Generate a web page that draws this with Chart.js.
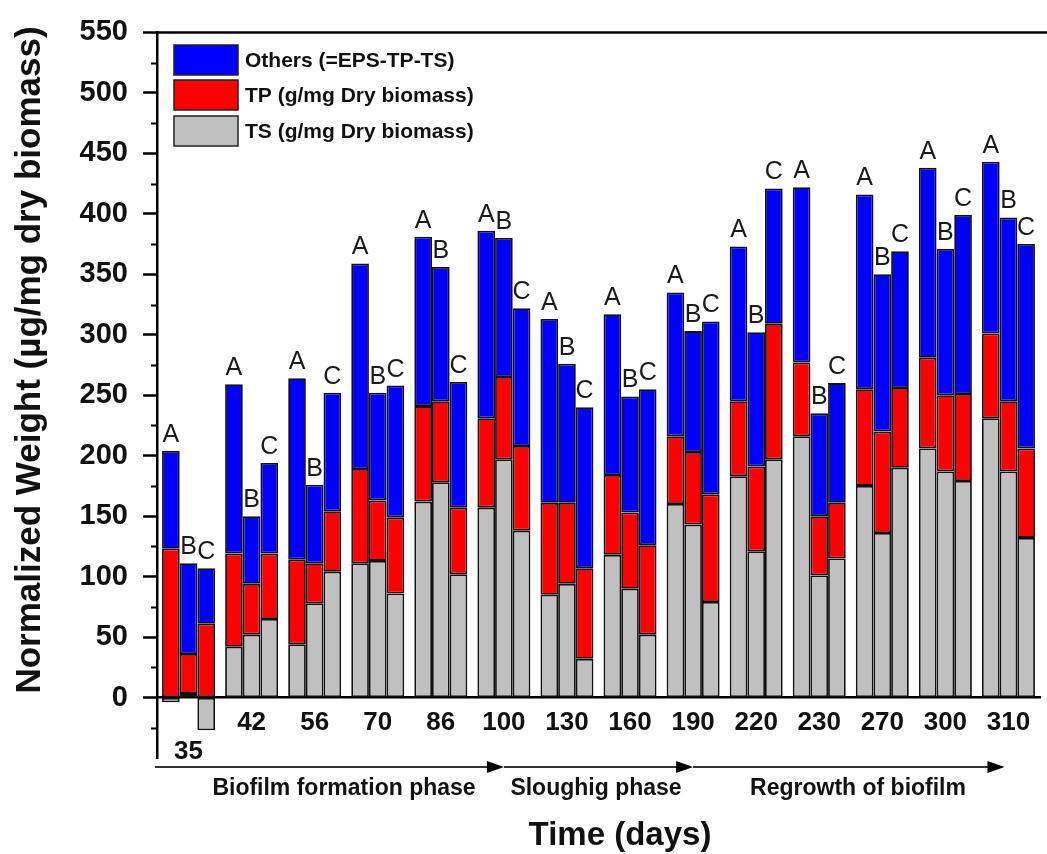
<!DOCTYPE html>
<html>
<head>
<meta charset="utf-8">
<script src="https://cdn.jsdelivr.net/npm/chart.js@4.4.0/dist/chart.umd.min.js"></script>
<style>
  body { margin: 0; background: #fff; }
  #wrap { width: 1047px; height: 854px; }
</style>
</head>
<body>
<div id="wrap"><canvas id="chart" width="1047" height="854"></canvas></div>
<script>
// sampling days and the three replicate bars (A, B, C) per day
const days = ['35', '42', '56', '70', '86', '100', '130', '160', '190', '220', '230', '270', '300', '310'];
const stacks = ['A', 'B', 'C'];

// TS = gray, TP = red, others = blue
const tsA = [-4, 42, 44, 111, 162, 157, 85, 118, 160, 183, 216, 175, 206, 231];
const tpA = [123, 77, 70, 78, 79, 74, 76, 66, 56, 62, 61, 80, 75, 70];
const otherA = [81, 140, 150, 170, 140, 155, 152, 133, 119, 128, 145, 161, 157, 142];

const tsB = [3, 52, 78, 113, 178, 197, 94, 90, 143, 121, 101, 136, 187, 187];
const tpB = [33, 42, 33, 50, 67, 68, 67, 63, 60, 70, 49, 84, 63, 58];
const otherB = [75, 56, 65, 89, 111, 115, 115, 96, 100, 111, 85, 130, 121, 152];

const tsC = [-27, 65, 104, 86, 102, 138, 32, 52, 79, 197, 115, 190, 179, 132];
const tpC = [61, 54, 50, 63, 55, 70, 75, 74, 89, 112, 46, 66, 72, 74];
const otherC = [46, 75, 98, 109, 104, 114, 133, 129, 143, 112, 99, 113, 148, 169];

const yTicks = [0, 50, 100, 150, 200, 250, 300, 350, 400, 450, 500, 550];
const seriesNames = ['Others (=EPS-TP-TS)', 'TP (g/mg Dry biomass)', 'TS (g/mg Dry biomass)'];
const phases = ['Biofilm formation phase', 'Sloughig phase', 'Regrowth of biofilm'];

const FONT = '"Liberation Sans", Arial, sans-serif';
const COLORS = { other: '#0000ff', tp: '#ff0000', ts: '#c0c0c0' };

const series = {
  A: [tsA, tpA, otherA],
  B: [tsB, tpB, otherB],
  C: [tsC, tpC, otherC]
};

function bar(data, part, stack) {
  return {
    label: part + ' ' + stack,
    part: part,
    data: data,
    stack: stack,
    backgroundColor: COLORS[part],
    borderColor: '#111',
    borderWidth: 1.8,
    borderSkipped: false,
    barPercentage: 1,
    categoryPercentage: 0.84
  };
}

const datasets = [];
stacks.forEach(s => {
  const [ts, tp, ot] = series[s];
  datasets.push(bar(ts, 'ts', s), bar(tp, 'tp', s), bar(ot, 'other', s));
});

// the first label sits one line lower, under the negative bar
const xLabels = days.map((d, i) => i === 0 ? ['', d] : d);

const decor = {
  id: 'decor',
  afterDatasetsDraw(chart) {
    const ctx = chart.ctx;
    ctx.save();
    ctx.font = '25px ' + FONT;
    ctx.fillStyle = '#1a1a1a';
    ctx.textAlign = 'center';
    ctx.textBaseline = 'alphabetic';
    chart.data.datasets.forEach((ds, i) => {
      if (ds.part !== 'other') return;
      chart.getDatasetMeta(i).data.forEach(el => {
        ctx.fillText(ds.stack, el.x, el.y - 9);
      });
    });
    ctx.restore();
  },
  afterDraw(chart) {
    const ctx = chart.ctx;
    const a = chart.chartArea;
    const x = chart.scales.x;
    const y = chart.scales.y;
    ctx.save();

    // top frame line
    ctx.strokeStyle = '#000';
    ctx.lineWidth = 2.5;
    ctx.beginPath();
    ctx.moveTo(a.left, a.top);
    ctx.lineTo(chart.width, a.top);
    ctx.stroke();

    // minor ticks
    ctx.lineWidth = 2;
    for (let v = -25; v < 550; v += 50) {
      const py = Math.round(y.getPixelForValue(v)) + 0.5;
      ctx.beginPath();
      ctx.moveTo(a.left - 6, py);
      ctx.lineTo(a.left, py);
      ctx.stroke();
    }

    // legend
    const legendColors = [COLORS.other, COLORS.tp, COLORS.ts];
    const boxTops = [45, 80, 116];
    ctx.font = 'bold 21px ' + FONT;
    ctx.textAlign = 'left';
    ctx.textBaseline = 'middle';
    seriesNames.forEach((name, i) => {
      ctx.fillStyle = legendColors[i];
      ctx.fillRect(174, boxTops[i], 64, 30);
      ctx.strokeStyle = '#222';
      ctx.lineWidth = 1.5;
      ctx.strokeRect(174, boxTops[i], 64, 30);
      ctx.fillStyle = '#111';
      ctx.fillText(name, 245, boxTops[i] + 16);
    });

    // phase arrows
    const ay = 767;
    const tips = [x.getPixelForValue(5), x.getPixelForValue(8), x.getPixelForValue(13) - 4];
    let start = a.left - 2;
    ctx.strokeStyle = '#333';
    ctx.fillStyle = '#000';
    ctx.lineWidth = 2;
    tips.forEach(tip => {
      ctx.beginPath();
      ctx.moveTo(start, ay);
      ctx.lineTo(tip - 10, ay);
      ctx.stroke();
      ctx.beginPath();
      ctx.moveTo(tip, ay);
      ctx.lineTo(tip - 17, ay - 6);
      ctx.lineTo(tip - 17, ay + 6);
      ctx.closePath();
      ctx.fill();
      start = tip;
    });

    ctx.font = 'bold 23px ' + FONT;
    ctx.textAlign = 'center';
    ctx.fillStyle = '#111';
    const phaseX = [344, 596, 858];
    phases.forEach((p, i) => ctx.fillText(p, phaseX[i], 789));

    // axis titles
    ctx.font = 'bold 33px ' + FONT;
    ctx.fillText('Time (days)', 620, 836);

    ctx.translate(30, 360);
    ctx.rotate(-Math.PI / 2);
    ctx.font = 'bold 35px ' + FONT;
    ctx.fillText('Normalized Weight (\u00b5g/mg dry biomass)', 0, 0);

    ctx.restore();
  }
};

new Chart(document.getElementById('chart'), {
  type: 'bar',
  data: { labels: xLabels, datasets: datasets },
  options: {
    responsive: false,
    devicePixelRatio: 1,
    animation: false,
    layout: { padding: { left: 0, top: 27, right: 7, bottom: 96 } },
    plugins: {
      legend: { display: false },
      tooltip: { enabled: false }
    },
    scales: {
      x: {
        stacked: true,
        position: { y: 0 },
        z: 1,
        grid: { display: false },
        border: { display: true, color: '#000', width: 2.5 },
        ticks: {
          color: '#111',
          padding: 3,
          maxRotation: 0,
          autoSkip: false,
          font: { family: FONT, size: 26, weight: 'bold', lineHeight: 1.1 }
        },
        afterFit(scale) { scale.height = 0; }
      },
      y: {
        stacked: true,
        min: -50,
        max: 550,
        afterFit(scale) { scale.width = 157; },
        border: { color: '#000', width: 2.5 },
        grid: {
          drawOnChartArea: false,
          drawTicks: true,
          tickLength: 14,
          tickWidth: 2.5,
          tickColor: c => (c.tick && c.tick.value >= 0 && c.tick.value % 50 === 0) ? '#000' : 'rgba(0,0,0,0)'
        },
        ticks: {
          stepSize: 25,
          padding: 15,
          color: '#111',
          font: { family: FONT, size: 29, weight: 'bold' },
          callback: v => yTicks.includes(v) ? String(v) : ''
        }
      }
    }
  },
  plugins: [decor]
});
</script>
</body>
</html>
